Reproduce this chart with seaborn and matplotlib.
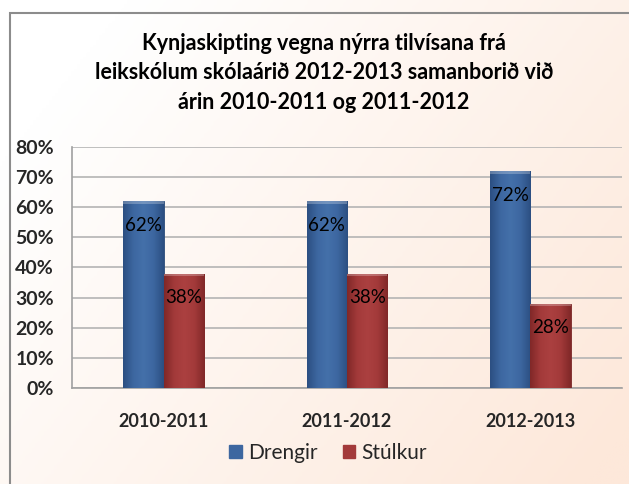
import numpy as np
import pandas as pd
import matplotlib
matplotlib.use("Agg")
import matplotlib.pyplot as plt
import seaborn as sns
from matplotlib.patches import Rectangle, Patch
from matplotlib.colors import LinearSegmentedColormap

# ---- data ----
years = ["2010-2011", "2011-2012", "2012-2013"]
drengir = [62, 62, 72]
stulkur = [38, 38, 28]
series_names = ["Drengir", "Stúlkur"]
yticks = [0, 10, 20, 30, 40, 50, 60, 70, 80]
title = ("Kynjaskipting vegna nýrra tilvísana frá\n"
         "leikskólum skólaárið 2012-2013 samanborið við\n"
         "árin 2010-2011 og 2011-2012")

df = pd.DataFrame({
    "ar": years * 2,
    "hlutfall": drengir + stulkur,
    "kyn": [series_names[0]] * 3 + [series_names[1]] * 3,
})

sns.set_theme(style="white")
plt.rcParams["font.family"] = ["Lato", "DejaVu Sans"]

W, H = 629, 484
fig = plt.figure(figsize=(W / 100, H / 100), dpi=100)

# background gradient (white top-left -> peach bottom-right)
bg = fig.add_axes([0, 0, 1, 1], zorder=-10)
xx, yy = np.meshgrid(np.linspace(0, 1, 200), np.linspace(0, 1, 200))
t = np.clip(0.75 * xx + 0.45 * yy - 0.15, 0, 1)
cmap_bg = LinearSegmentedColormap.from_list("bg", ["#ffffff", "#fde8da"])
bg.imshow(t, cmap=cmap_bg, aspect="auto", extent=[0, 1, 0, 1], origin="upper")
bg.set_xlim(0, 1); bg.set_ylim(0, 1)
bg.axis("off")
# outer frame
bg.add_patch(Rectangle((10 / W, -0.1), 1.2, 1 - 13 / H + 0.1, fill=False,
                       edgecolor="#8c8c8c", linewidth=1.5))

ax = fig.add_axes([72 / W, 1 - 388 / H, 550 / W, 241 / H])
ax.patch.set_alpha(0)

palette = {"Drengir": "#3d67a0", "Stúlkur": "#a33a3a"}
sns.barplot(data=df, x="ar", y="hlutfall", hue="kyn", palette=palette,
            width=0.44, ax=ax, legend=False, saturation=1,
            edgecolor="#2a4a78", linewidth=0.6, zorder=3)

# subtle cylinder-like shading on each bar
shade = {
    "Drengir": LinearSegmentedColormap.from_list(
        "b", ["#2c4f82", "#3d67a0", "#4470aa", "#3d67a0", "#2c4f82"]),
    "Stúlkur": LinearSegmentedColormap.from_list(
        "r", ["#812828", "#a33a3a", "#ab4040", "#a33a3a", "#812828"]),
}
grad = np.linspace(0, 1, 64).reshape(1, -1)
for cont, name in zip(ax.containers, series_names):
    for bar in cont:
        if name == "Stúlkur":
            bar.set_edgecolor("#7a2626")
        x0, w, h = bar.get_x(), bar.get_width(), bar.get_height()
        im = ax.imshow(grad, cmap=shade[name], aspect="auto",
                       extent=[x0, x0 + w, 0, h], zorder=3.5)
        im.set_clip_path(bar)
        # light bevel on top
        ax.add_patch(Rectangle((x0, h - 0.9), w, 0.9, facecolor="white",
                               alpha=0.25, edgecolor="none", zorder=3.6))

# data labels
for cont in ax.containers:
    for bar in cont:
        h = bar.get_height()
        ax.text(bar.get_x() + bar.get_width() / 2, h - 8, f"{h:.0f}%",
                ha="center", va="center", fontsize=13.5, color="black", zorder=5)

ax.set_ylim(0, 80)
ax.set_xlim(-0.5, 2.5)
ax.set_yticks(yticks)
ax.set_yticklabels([f"{v}%" for v in yticks], fontsize=14, fontweight="bold")
ax.set_xticks(range(len(years)))
ax.set_xticklabels(years, fontsize=13, fontweight="bold")
ax.tick_params(axis="y", length=0, pad=13)
ax.tick_params(axis="x", length=0, pad=18)
ax.set_xlabel("")
ax.set_ylabel("")
ax.grid(axis="y", color="#b4b4b4", linewidth=1.2, zorder=0)
ax.set_axisbelow(True)
for s in ["top", "right"]:
    ax.spines[s].set_visible(False)
for s in ["left", "bottom"]:
    ax.spines[s].set_color("#a0a0a0")
    ax.spines[s].set_linewidth(1.2)

fig.text(324 / W, 1 - 33 / H, title, ha="center", va="top", fontsize=15.5,
         fontweight="bold", linespacing=1.5, color="black")

handles = [Patch(facecolor=palette[n], edgecolor=palette[n]) for n in series_names]
fig.legend(handles, series_names, loc="center", bbox_to_anchor=(328 / W, 1 - 453 / H),
           ncol=2, frameon=False, fontsize=15, handlelength=0.6, handleheight=0.6,
           handletextpad=0.3, columnspacing=1.2)

fig.savefig("out.png", dpi=100)
